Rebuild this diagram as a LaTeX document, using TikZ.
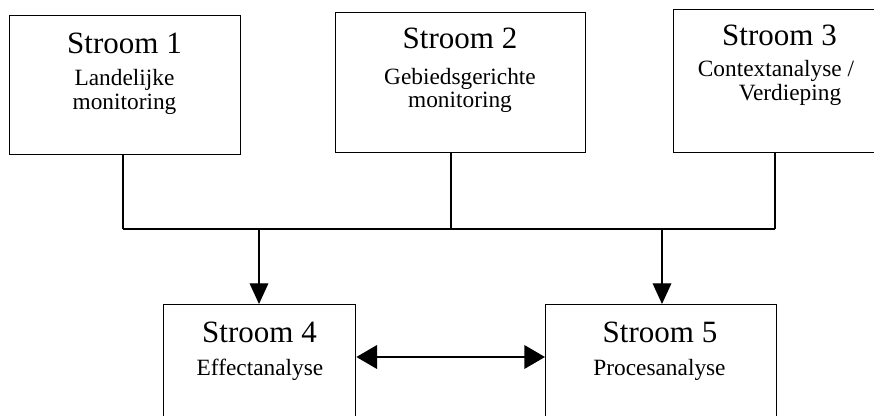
\documentclass[tikz,border=0pt]{standalone}
\usepackage{fontspec}
\setmainfont{Liberation Serif}
\usetikzlibrary{arrows.meta}
\begin{document}
\begin{tikzpicture}[x=0.75pt,y=-0.75pt,
  box/.style={draw=black,line width=1pt,rectangle,inner sep=0pt,anchor=north west},
  big/.style={font=\fontsize{23.25}{26}\selectfont,anchor=base,inner sep=0pt},
  small/.style={font=\fontsize{17.5}{20}\selectfont,anchor=base,inner sep=0pt},
  wire/.style={draw=black,line width=1pt},
  downarrow/.style={wire,-{Triangle[length=15.5pt,width=14pt]}},
  duoarrow/.style={draw=black,line width=2pt,{Triangle[length=15.5pt,width=17.5pt]}-{Triangle[length=15.5pt,width=17.5pt]}}
]
\useasboundingbox (0,0) rectangle (874,416);
\fill[white] (0,0) rectangle (874,416);
\clip (0,0) rectangle (874,416);

% boxes
\node[box,minimum width=231*0.75pt,minimum height=139*0.75pt] (b1) at (9,15) {};
\node[box,minimum width=250*0.75pt,minimum height=140*0.75pt] (b2) at (335,12) {};
\node[box,minimum width=208*0.75pt,minimum height=143*0.75pt] (b3) at (673,9) {};
\node[box,minimum width=192*0.75pt,minimum height=140*0.75pt] (b4) at (163,304) {};
\node[box,minimum width=231*0.75pt,minimum height=140*0.75pt] (b5) at (545,304) {};

% texts
\node[big]   (t1)  at (124.5,54) {Stroom 1};
\node[small] (s1a) at (124.5,86) {Landelijke};
\node[small] (s1b) at (124.5,110) {monitoring};

\node[big]   (t2)  at (460,49) {Stroom 2};
\node[small] (s2a) at (460,85) {Gebiedsgerichte};
\node[small] (s2b) at (460,108) {monitoring};

\node[big]   (t3)  at (779.5,46) {Stroom 3};
\node[small] (s3a) at (776,77) {Contextanalyse /};
\node[small] (s3b) at (790,101) {Verdieping};

\node[big]   (t4)  at (259.5,343) {Stroom 4};
\node[small] (s4a) at (260,375) {Effectanalyse};

\node[big]   (t5)  at (660,343) {Stroom 5};
\node[small] (s5a) at (659.5,375) {Procesanalyse};

% bus
\coordinate (j1) at (123,229);
\coordinate (j2) at (451,229);
\coordinate (j3) at (775,229);
\coordinate (a4) at (259,229);
\coordinate (a5) at (662,229);
\coordinate (dd) at (450,357);

\draw[wire] (j1 |- b1.south) -- (j1);
\draw[wire] (j2 |- b2.south) -- (j2);
\draw[wire] (j3 |- b3.south) -- (j3);
\draw[wire] (j1) -- (j3);

\draw[downarrow] (a4) -- (a4 |- b4.north);
\draw[downarrow] (a5) -- (a5 |- b5.north);

\draw[duoarrow] (b4.east |- dd) -- (b5.west |- dd);
\end{tikzpicture}
\end{document}
